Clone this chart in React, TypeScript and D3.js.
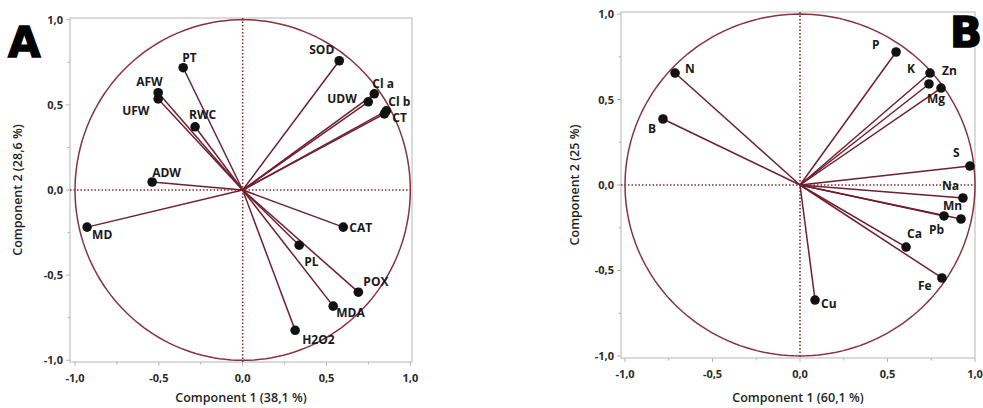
import React from "react";
import * as d3 from "d3";

// Panel A data
const namesA = ["PT", "AFW", "UFW", "RWC", "ADW", "MD", "SOD", "Cl a", "UDW", "Cl b", "CT", "CAT", "PL", "POX", "MDA", "H2O2"];
const comp1A = [-0.355, -0.504, -0.504, -0.284, -0.54, -0.928, 0.576, 0.785, 0.749, 0.857, 0.845, 0.6, 0.337, 0.69, 0.54, 0.313];
const comp2A = [0.718, 0.571, 0.535, 0.371, 0.047, -0.218, 0.759, 0.565, 0.518, 0.465, 0.447, -0.218, -0.324, -0.6, -0.682, -0.824];

// Panel B data
const namesB = ["P", "N", "B", "K", "Zn", "Mg", "S", "Na", "Mn", "Pb", "Ca", "Fe", "Cu"];
const comp1B = [0.549, -0.714, -0.783, 0.737, 0.743, 0.806, 0.971, 0.931, 0.92, 0.823, 0.606, 0.811, 0.086];
const comp2B = [0.778, 0.655, 0.386, 0.591, 0.655, 0.567, 0.111, -0.076, -0.199, -0.181, -0.363, -0.544, -0.673];

const majorTicks = [-1, -0.5, 0, 0.5, 1];
const minorTicks = [-0.75, -0.25, 0.25, 0.75];
const tickLabels = ["-1,0", "-0,5", "0,0", "0,5", "1,0"];

// label placement (layout)
const labelOffA: Record<string, [number, number]> = {
  PT: [-1, -6], AFW: [-22, -7], UFW: [-36, 16], RWC: [-6, -8], ADW: [0, -5], MD: [5, 12],
  SOD: [-30, -7], "Cl a": [-2, -6], UDW: [-41, 1], "Cl b": [2, -5], CT: [8, 8], CAT: [6, 5],
  PL: [5, 21], POX: [5, -6], MDA: [3, 11], H2O2: [7, 14],
};
const labelOffB: Record<string, [number, number]> = {
  P: [-24, -3], N: [10, 0], B: [-15, 14], K: [-22, -11], Zn: [12, 2], Mg: [-14, 15],
  S: [-17, -9], Na: [-21, -8], Mn: [-18, -9], Pb: [-15, 18], Ca: [1, -9], Fe: [-24, 12], Cu: [6, 8],
};

const FONT = "'Open Sans', 'Liberation Sans', sans-serif";
const VEC = "#6e1f30";
const CIRC = "#853342";
const FRAME = "#b5b5b5";

type PanelProps = {
  names: string[];
  c1: number[];
  c2: number[];
  offs: Record<string, [number, number]>;
  xDomain: [number, number];
  xRange: [number, number];
  yDomain: [number, number];
  yRange: [number, number];
  xTitle: string;
  yTitle: string;
  yTitleX: number;
  letter: string;
  letterX: number;
  letterY: number;
};

function Panel(p: PanelProps) {
  const x = d3.scaleLinear().domain(p.xDomain).range(p.xRange);
  const y = d3.scaleLinear().domain(p.yDomain).range(p.yRange);
  const [x0, x1] = p.xRange;
  const [y0b, y1t] = p.yRange; // bottom, top
  const angles = d3.range(0, 361, 2).map((a) => (a * Math.PI) / 180);
  const circ = d3
    .line<number>()
    .x((a) => x(Math.cos(a)))
    .y((a) => y(Math.sin(a)))(angles) as string;
  const cx = x(0);
  const cy = y(0);
  return (
    <g>
      <rect x={x0} y={y1t} width={x1 - x0} height={y0b - y1t} fill="none" stroke={FRAME} strokeWidth={1} />
      {majorTicks.map((t, i) => (
        <g key={"yt" + i}>
          <line x1={x0 - 4} x2={x0} y1={y(t)} y2={y(t)} stroke={FRAME} />
          <text x={x0 - 7} y={y(t) + 4} textAnchor="end" fontSize={11} fontWeight={700} fill="#2a2a2a" fontFamily={FONT}>
            {tickLabels[i]}
          </text>
        </g>
      ))}
      {minorTicks.map((t, i) => (
        <line key={"ym" + i} x1={x0 - 2.5} x2={x0} y1={y(t)} y2={y(t)} stroke={FRAME} />
      ))}
      {majorTicks.map((t, i) => (
        <g key={"xt" + i}>
          <line x1={x(t)} x2={x(t)} y1={y0b} y2={y0b + 4} stroke={FRAME} />
          <text x={x(t)} y={y0b + 20} textAnchor="middle" fontSize={11} fontWeight={700} fill="#2a2a2a" fontFamily={FONT}>
            {tickLabels[i]}
          </text>
        </g>
      ))}
      {minorTicks.map((t, i) => (
        <line key={"xm" + i} x1={x(t)} x2={x(t)} y1={y0b} y2={y0b + 2.5} stroke={FRAME} />
      ))}
      <text x={(x0 + x1) / 2} y={402} textAnchor="middle" fontSize={12.5} fontWeight={600} fill="#1f1f1f" fontFamily={FONT}>
        {p.xTitle}
      </text>
      <text
        transform={`translate(${p.yTitleX},${cy}) rotate(-90)`}
        textAnchor="middle"
        fontSize={12.5}
        fontWeight={600}
        fill="#1f1f1f"
        fontFamily={FONT}
      >
        {p.yTitle}
      </text>
      <line x1={x0} x2={x1} y1={cy} y2={cy} stroke="#8b2a2a" strokeWidth={1.6} strokeDasharray="1.5 2" />
      <line x1={cx} x2={cx} y1={y1t} y2={y0b} stroke="#8b2a2a" strokeWidth={1.6} strokeDasharray="1.5 2" />
      <path d={circ} fill="none" stroke={CIRC} strokeWidth={1.5} />
      {p.names.map((n, i) => (
        <line key={"v" + n} x1={cx} y1={cy} x2={x(p.c1[i])} y2={y(p.c2[i])} stroke={VEC} strokeWidth={1.5} />
      ))}
      {p.names.map((n, i) => {
        const o = p.offs[n] || [4, -4];
        return (
          <text key={"l" + n} x={x(p.c1[i]) + o[0]} y={y(p.c2[i]) + o[1]} fontSize={12} fontWeight={700} fill="#1a1a1a" fontFamily={FONT}>
            {n}
          </text>
        );
      })}
      {p.names.map((n, i) => (
        <circle key={"p" + n} cx={x(p.c1[i])} cy={y(p.c2[i])} r={4.8} fill="#111" />
      ))}
      <text x={p.letterX} y={p.letterY} fontSize={42} fontWeight={900} fill="#000" stroke="#000" strokeWidth={1.5} fontFamily="'DejaVu Sans', 'Liberation Sans', sans-serif">
        {p.letter}
      </text>
    </g>
  );
}

export default function App() {
  return (
    <svg width={983} height={408} style={{ position: "absolute", left: 0, top: 0, background: "#fff" }}>
      <rect width={983} height={408} fill="#fff" />
      <Panel
        names={namesA}
        c1={comp1A}
        c2={comp2A}
        offs={labelOffA}
        xDomain={[-1.03, 1.01]}
        xRange={[70, 412]}
        yDomain={[-1.01, 1.01]}
        yRange={[362, 18]}
        xTitle="Component 1  (38,1 %)"
        yTitle="Component 2  (28,6 %)"
        yTitleX={22}
        letter="A"
        letterX={8}
        letterY={57}
      />
      <Panel
        names={namesB}
        c1={comp1B}
        c2={comp2B}
        offs={labelOffB}
        xDomain={[-1.023, 1.0]}
        xRange={[621, 975]}
        yDomain={[-1.012, 1.012]}
        yRange={[358, 12]}
        xTitle="Component 1  (60,1 %)"
        yTitle="Component 2  (25 %)"
        yTitleX={579}
        letter="B"
        letterX={950}
        letterY={47}
      />
    </svg>
  );
}
